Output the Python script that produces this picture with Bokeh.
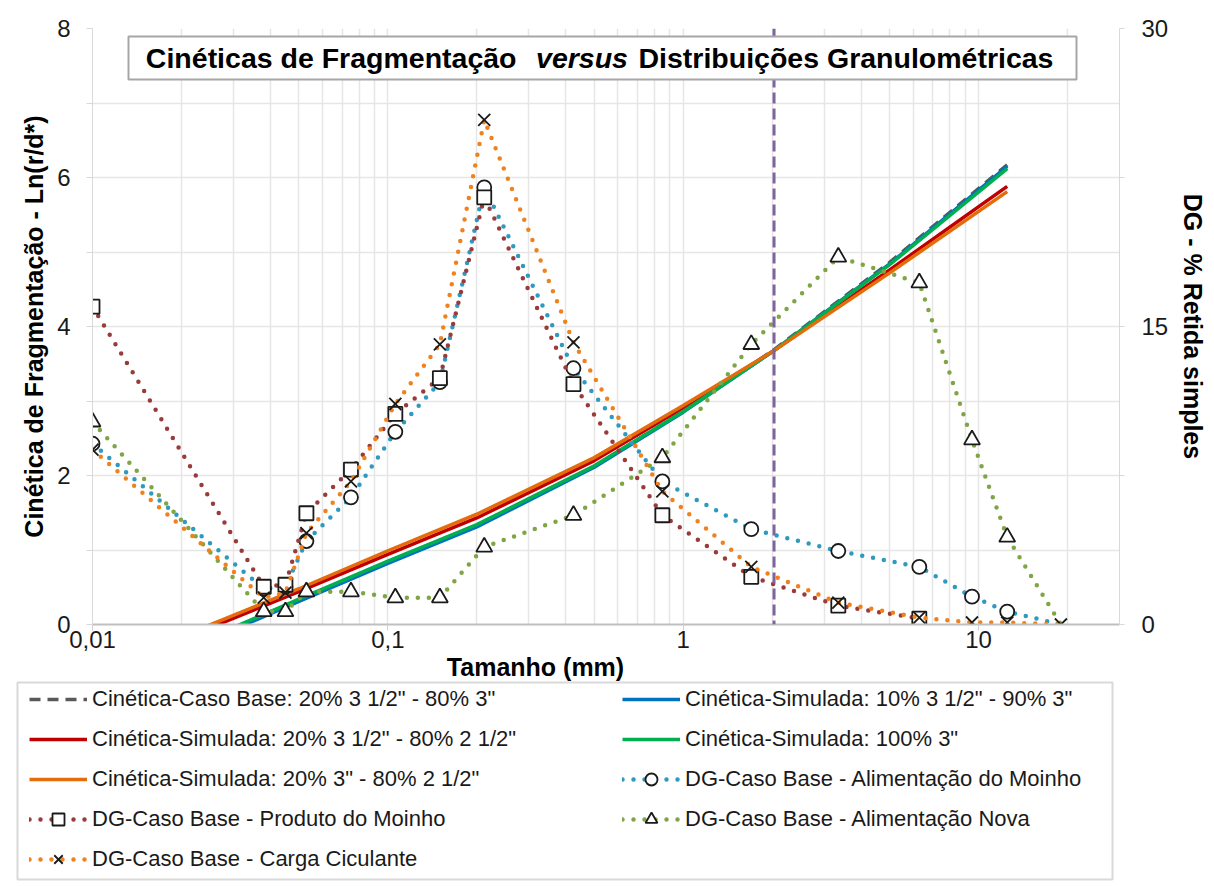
from bokeh.plotting import figure
from bokeh.layouts import column
from bokeh.models import (Range1d, LinearAxis, FixedTicker, Span, Label, BoxAnnotation,
                          Legend, LegendItem, ColumnDataSource, CDSView, IndexFilter,
                          CustomJSTickFormatter)
from bokeh.embed import file_html
from bokeh.resources import INLINE

# ---------------- data ----------------
# sieve sizes (mm)
sizes = [0.01, 0.038, 0.045, 0.053, 0.075, 0.106, 0.15, 0.212, 0.425, 0.85, 1.7, 3.35, 6.3, 9.5, 12.5, 19]
# DG - % retida simples
dg_alim_moinho = [9.1, 1.8, 1.9, 4.2, 6.4, 9.7, 12.2, 22.0, 12.9, 7.2, 4.8, 3.7, 2.9, 1.4, 0.65, 0.0]
dg_produto = [16.0, 1.9, 2.0, 5.6, 7.8, 10.6, 12.4, 21.5, 12.1, 5.5, 2.4, 0.95, 0.3]
dg_alim_nova = [10.2, 0.65, 0.65, 1.65, 1.65, 1.35, 1.35, 3.9, 5.5, 8.4, 14.1, 18.5, 17.2, 9.3, 4.4, 0.0]
dg_carga = [8.8, 1.35, 1.6, 4.6, 7.2, 11.1, 14.1, 25.4, 14.2, 6.7, 2.9, 1.1, 0.35, 0.1, 0.1, 0.0]

# kinetics - Ln(r/d*)
kin_x = [0.02, 0.05, 0.1, 0.2, 0.5, 1, 2, 5, 12.5]
kin_base = [-0.35, 0.33, 0.84, 1.33, 2.12, 2.86, 3.67, 4.86, 6.17]
kin_10_90 = [-0.37, 0.31, 0.82, 1.31, 2.11, 2.85, 3.66, 4.84, 6.15]
kin_20_80_212 = [-0.20, 0.44, 0.94, 1.43, 2.20, 2.91, 3.66, 4.76, 5.88]
kin_100_3 = [-0.34, 0.34, 0.85, 1.34, 2.13, 2.86, 3.66, 4.83, 6.12]
kin_20_3_80_212 = [-0.16, 0.48, 0.99, 1.48, 2.24, 2.94, 3.66, 4.72, 5.81]

d_ref = 2.03  # vertical reference line (mm)

x_major = [0.01, 0.1, 1, 10]
x_minor = [0.02, 0.03, 0.04, 0.05, 0.06, 0.07, 0.08, 0.09,
           0.2, 0.3, 0.4, 0.5, 0.6, 0.7, 0.8, 0.9,
           2, 3, 4, 5, 6, 7, 8, 9, 20, 30]
y_left_ticks = [0, 1, 2, 3, 4, 5, 6, 7, 8]
y_right_ticks = [0, 7.5, 15, 22.5, 30]

FONT = "Liberation Sans"
GRID = "#E6E6E6"
TXT = "#1a1a1a"
W = 1209

# ---------------- styles ----------------
KIN = [
    ("Cinética-Caso Base: 20% 3 1/2\" - 80% 3\"", kin_base, "#595959", "11 7"),
    ("Cinética-Simulada: 10% 3 1/2\" - 90% 3\"", kin_10_90, "#0070C0", "solid"),
    ("Cinética-Simulada: 20% 3 1/2\" - 80% 2 1/2\"", kin_20_80_212, "#C00000", "solid"),
    ("Cinética-Simulada: 100% 3\"", kin_100_3, "#00B050", "solid"),
    ("Cinética-Simulada: 20% 3\" - 80% 2 1/2\"", kin_20_3_80_212, "#E46C0A", "solid"),
]
DG = [
    ("DG-Caso Base - Alimentação do Moinho", dg_alim_moinho, "#2E9AC0", "circle", 14, True),
    ("DG-Caso Base - Produto do Moinho", dg_produto, "#9A3B3B", "square", 14, False),
    ("DG-Caso Base - Alimentação Nova", dg_alim_nova, "#7FA544", "triangle", 16, True),
    ("DG-Caso Base - Carga Ciculante", dg_carga, "#F0821E", "x", 17, False),
]

# ---------------- main chart ----------------
p = figure(frame_width=1027, frame_height=596, x_axis_type="log",
           x_range=Range1d(0.01, 30), y_range=Range1d(0, 8),
           output_backend="svg", toolbar_location=None, frame_align=False,
           min_border_left=92, min_border_right=90, min_border_top=28, min_border_bottom=28,
           background_fill_color="white", border_fill_color="white")
p.outline_line_color = None
p.extra_y_ranges = {"dg": Range1d(0, 30)}

xa = p.xaxis[0]
xa.ticker = FixedTicker(ticks=x_major, minor_ticks=x_minor)
xa.formatter = CustomJSTickFormatter(code="return tick.toString().replace('.', ',');")
xa.axis_line_color = "#BFBFBF"
xa.axis_line_width = 2
xa.major_tick_line_color = "#D0D0D0"
xa.major_tick_out = 6
xa.major_tick_in = 0
xa.minor_tick_out = 0
xa.minor_tick_in = 0
xa.major_label_standoff = 0
xa.major_label_text_font = FONT
xa.major_label_text_font_size = "24px"
xa.major_label_text_color = TXT

ya = p.yaxis[0]
ya.ticker = FixedTicker(ticks=y_left_ticks, minor_ticks=[])
ya.formatter = CustomJSTickFormatter(code="return (tick % 2 == 0) ? tick.toString() : '';")
ya.axis_line_color = "#D9D9D9"
ya.major_tick_line_color = "#D9D9D9"
ya.major_tick_out = 6
ya.major_tick_in = 0
ya.minor_tick_out = 0
ya.major_label_standoff = 16
ya.major_label_text_font = FONT
ya.major_label_text_font_size = "24px"
ya.major_label_text_color = TXT
ya.axis_label = "Cinética de Fragmentação - Ln(r/d*)"
ya.axis_label_text_font = FONT
ya.axis_label_text_font_style = "bold"
ya.axis_label_text_font_size = "25px"
ya.axis_label_text_color = "black"
ya.axis_label_standoff = 6

yr = LinearAxis(y_range_name="dg")
yr.ticker = FixedTicker(ticks=y_right_ticks, minor_ticks=[])
yr.formatter = CustomJSTickFormatter(code="return (tick % 15 == 0) ? tick.toString() : '';")
yr.axis_line_color = "#D9D9D9"
yr.major_tick_line_color = "#D9D9D9"
yr.major_tick_out = 5
yr.major_tick_in = 0
yr.minor_tick_out = 0
yr.major_label_standoff = 17
yr.major_label_text_font = FONT
yr.major_label_text_font_size = "24px"
yr.major_label_text_color = TXT
yr.axis_label = "DG - % Retida simples"
yr.axis_label_text_font = FONT
yr.axis_label_text_font_style = "bold"
yr.axis_label_text_font_size = "25px"
yr.axis_label_text_color = "black"
yr.axis_label_standoff = 8
p.add_layout(yr, "right")

p.xgrid.grid_line_color = GRID
p.xgrid.grid_line_width = 1.5
p.xgrid.minor_grid_line_color = GRID
p.xgrid.minor_grid_line_width = 1.5
p.ygrid.grid_line_color = GRID
p.ygrid.grid_line_width = 1.5

def kin_line(fig, xs, ys, color, dash, **kw):
    src = ColumnDataSource(dict(x=xs, y=ys))
    return fig.line("x", "y", source=src, line_color=color, line_width=3.5,
                    line_dash=dash, **kw)

def dg_series(fig, xs, ys, color, marker, msize, skip_last, **kw):
    src = ColumnDataSource(dict(x=xs, y=ys))
    ln = fig.line("x", "y", source=src, line_color=color, line_width=4.5,
                  line_dash="0 11", line_cap="round", **kw)
    skw = dict(kw)
    if skip_last and len(ys) > 1:
        skw["view"] = CDSView(filter=IndexFilter(list(range(len(ys) - 1))))
    sc = fig.scatter("x", "y", source=src, marker=marker, size=msize,
                     line_color="#1a1a1a", line_width=1.8,
                     fill_color=(None if marker == "x" else "white"), **skw)
    return [ln, sc]

for name, vals, color, dash in KIN:
    kin_line(p, kin_x, vals, color, dash)
for name, vals, color, marker, msize, skip in DG:
    dg_series(p, sizes[:len(vals)], vals, color, marker, msize, skip, y_range_name="dg")

p.add_layout(Span(location=d_ref, dimension="height", line_color="#8064A2",
                  line_width=3, line_dash="11 5"))

# title box
p.add_layout(BoxAnnotation(left=36, right=984, top=588, bottom=545,
                           left_units="screen", right_units="screen",
                           top_units="screen", bottom_units="screen",
                           fill_color="white", fill_alpha=1,
                           line_color="#A6A6A6", line_width=2, line_alpha=1))
tkw = dict(x_units="screen", y_units="screen", y=567, text_baseline="middle",
           text_font=FONT, text_font_size="28.5px", text_color="black")
p.add_layout(Label(x=424, text="Cinéticas de Fragmentação", text_align="right",
                   text_font_style="bold", **tkw))
p.add_layout(Label(x=489.5, text="versus", text_align="center",
                   text_font_style="bold italic", **tkw))
p.add_layout(Label(x=546, text="Distribuições Granulométricas", text_align="left",
                   text_font_style="bold", **tkw))

# ---------------- x-axis title + legend panel (below the chart) ----------------
H = 232
q = figure(width=W, height=H, x_range=Range1d(0, W), y_range=Range1d(0, H),
           output_backend="svg", toolbar_location=None, frame_align=False,
           x_axis_location=None, y_axis_location=None, min_border=0,
           background_fill_color="white", border_fill_color="white")
q.outline_line_color = None
q.grid.visible = False
# legend sample renderers carry the same series, mapped onto a range outside the panel
q.extra_x_ranges = {"off": Range1d(1000, 2000)}
q.extra_y_ranges = {"off": Range1d(1000, 2000)}

q.add_layout(BoxAnnotation(left=17, right=1112, top=202, bottom=5,
                           fill_color="white", fill_alpha=1,
                           line_color="#D9D9D9", line_width=2, line_alpha=1))
q.add_layout(Label(x=535, y=218, text="Tamanho (mm)", text_align="center",
                   text_baseline="middle", text_font=FONT, text_font_size="25px",
                   text_font_style="bold", text_color="black"))

lr = {}
for name, vals, color, dash in KIN:
    lr[name] = [kin_line(q, kin_x, vals, color, dash,
                         x_range_name="off", y_range_name="off")]
for name, vals, color, marker, msize, skip in DG:
    lr[name] = dg_series(q, sizes[:len(vals)], vals, color, marker, msize, False,
                         x_range_name="off", y_range_name="off")

left_col = [KIN[0][0], KIN[2][0], KIN[4][0], DG[1][0], DG[3][0]]
right_col = [KIN[1][0], KIN[3][0], DG[0][0], DG[2][0]]

lkw = dict(orientation="vertical", label_text_font=FONT, label_text_font_size="22px",
           label_text_color=TXT, glyph_width=58, glyph_height=30, label_height=30,
           spacing=10, padding=0, margin=0, border_line_color=None,
           background_fill_alpha=0, label_standoff=5)
leg1 = Legend(items=[LegendItem(label=n, renderers=lr[n]) for n in left_col],
              location=(29, 10), **lkw)
leg2 = Legend(items=[LegendItem(label=n, renderers=lr[n]) for n in right_col],
              location=(622, 50), **lkw)
q.add_layout(leg1, "center")
q.add_layout(leg2, "center")

layout = column(p, q, spacing=0)
open("out.html", "w").write(file_html(layout, INLINE))
